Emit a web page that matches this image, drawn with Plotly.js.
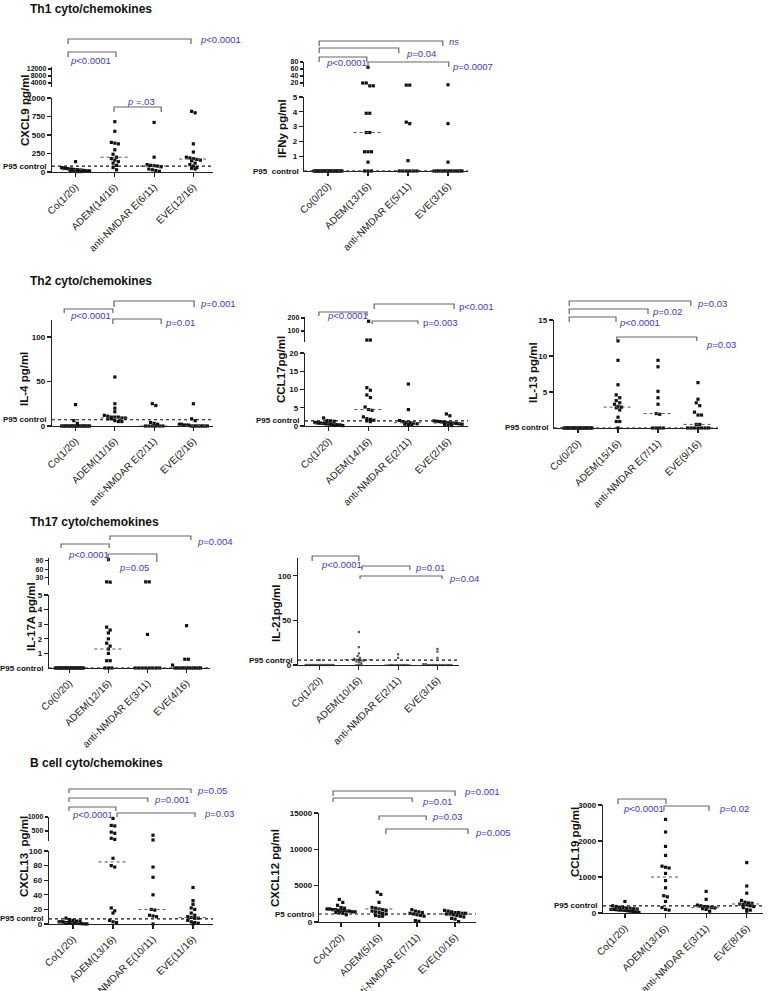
<!DOCTYPE html>
<html>
<head>
<meta charset="utf-8">
<script src="https://cdn.plot.ly/plotly-3.0.1.min.js"></script>
<style>body{margin:0;background:#fff}#chart{width:768px;height:991px}</style>
</head>
<body>
<div id="chart"></div>
<script>
// ---- values (pg/ml), groups: Co, ADEM, anti-NMDAR E, EVE ----
const cxcl9Cats = ['Co(1/20)', 'ADEM(14/16)', 'anti-NMDAR E(6/11)', 'EVE(12/16)']
const cxcl9Vals = [
    [140, 60, 55, 50, 45, 40, 40, 35, 30, 30, 25, 25, 20, 20, 15, 15, 10, 10, 5, 5],
    [14000, 680, 550, 400, 390, 380, 300, 240, 200, 180, 160, 140, 120, 90, 60, 30],
    [670, 200, 100, 90, 85, 80, 70, 40, 30, 20, 10],
    [820, 800, 380, 270, 200, 190, 180, 170, 160, 150, 120, 100, 80, 60, 50, 40]
]
const cxcl9Med = [30, 200, 80, 175]
const cxcl9P95 = 80

const ifnyCats = ['Co(0/20)', 'ADEM(13/16)', 'anti-NMDAR E(5/11)', 'EVE(3/16)']
const ifnyVals = [
    [0, 0, 0, 0, 0, 0, 0, 0, 0, 0, 0, 0, 0, 0, 0, 0, 0, 0, 0, 0],
    [65, 20, 20, 12, 12, 3.9, 3.9, 2.6, 2.6, 1.3, 1.3, 1.3, 0.6, 0, 0, 0],
    [14, 14, 3.2, 3.3, 0.7, 0, 0, 0, 0, 0, 0],
    [15, 3.2, 0.6, 0, 0, 0, 0, 0, 0, 0, 0, 0, 0, 0, 0, 0]
]
const ifnyMed = [0, 2.6, 0, 0]
const ifnyP95 = 0

const il4Cats = ['Co(1/20)', 'ADEM(11/16)', 'anti-NMDAR E(2/11)', 'EVE(2/16)']
const il4Vals = [
    [24, 6, 3, 0, 0, 0, 0, 0, 0, 0, 0, 0, 0, 0, 0, 0, 0, 0, 0, 0],
    [55, 25, 20, 16, 12, 11, 10, 10, 10, 9, 9, 8, 8, 6, 5, 5],
    [25, 23, 4, 3, 2, 0, 0, 0, 0, 0, 0],
    [25, 8, 6, 2, 2, 1, 1, 1, 0, 0, 0, 0, 0, 0, 0, 0]
]
const il4Med = [0, 9, 0, 0.5]
const il4P95 = 7

const ccl17Cats = ['Co(1/20)', 'ADEM(14/16)', 'anti-NMDAR E(2/11)', 'EVE(2/16)']
const ccl17Vals = [
    [2.2, 1.5, 1.4, 1.3, 1.0, 0.9, 0.8, 0.8, 0.7, 0.7, 0.6, 0.6, 0.5, 0.5, 0.4, 0.4, 0.3, 0.3, 0.2, 0.1],
    [175, 30, 30, 10.5, 9.8, 8.5, 7.8, 5.2, 4.5, 4.3, 2.5, 2.0, 1.8, 1.6, 1.4, 1.2],
    [11.5, 4.5, 1.5, 1.2, 1.0, 0.9, 0.8, 0.6, 0.5, 0.4, 0.3],
    [3.3, 2.8, 1.4, 1.3, 1.2, 1.1, 1.0, 0.9, 0.8, 0.8, 0.7, 0.6, 0.5, 0.4, 0.3, 0.1]
]
const ccl17Med = [0.6, 4.5, 0.9, 0.8]
const ccl17P95 = 1.4

const il13Cats = ['Co(0/20)', 'ADEM(15/16)', 'anti-NMDAR E(7/11)', 'EVE(9/16)']
const il13Vals = [
    [0, 0, 0, 0, 0, 0, 0, 0, 0, 0, 0, 0, 0, 0, 0, 0, 0, 0, 0, 0],
    [12.1, 9.4, 6.0, 4.6, 4.2, 3.8, 3.5, 3.3, 3.0, 2.9, 2.8, 2.5, 1.5, 0.9, 0.9, 0],
    [9.4, 8.5, 5.1, 4.2, 3.3, 2.0, 1.9, 0, 0, 0, 0],
    [6.3, 4.0, 3.5, 3.1, 2.2, 1.8, 1.8, 0.5, 0.5, 0, 0, 0, 0, 0, 0, 0]
]
const il13Med = [0, 2.9, 2.0, 0.5]
const il13P95 = 0

const il17aCats = ['Co(0/20)', 'ADEM(12/16)', 'anti-NMDAR E(3/11)', 'EVE(4/16)']
const il17aVals = [
    [0, 0, 0, 0, 0, 0, 0, 0, 0, 0, 0, 0, 0, 0, 0, 0, 0, 0, 0, 0],
    [95, 16, 15, 2.8, 2.6, 2.4, 2.0, 1.7, 1.5, 1.3, 1.0, 0.5, 0.5, 0, 0, 0],
    [16, 16, 2.3, 0, 0, 0, 0, 0, 0, 0, 0],
    [2.9, 0.6, 0.6, 0.2, 0, 0, 0, 0, 0, 0, 0, 0, 0, 0, 0, 0]
]
const il17aMed = [0, 1.3, 0, 0]
const il17aP95 = 0

const il21Cats = ['Co(1/20)', 'ADEM(10/16)', 'anti-NMDAR E(2/11)', 'EVE(3/16)']
const il21Vals = [
    [5.5, 0, 0, 0, 0, 0, 0, 0, 0, 0, 0, 0, 0, 0, 0, 0, 0, 0, 0, 0],
    [37, 20, 13, 10, 8, 7, 6, 6, 5, 5, 4, 3, 2, 0, 0, 0],
    [12, 8, 0, 0, 0, 0, 0, 0, 0, 0, 0],
    [18, 15, 8, 1, 1, 0, 0, 0, 0, 0, 0, 0, 0, 0, 0, 0]
]
const il21Med = [0, 6, 0, 0]
const il21P95 = 5.5

const cxcl13Cats = ['Co(1/20)', 'ADEM(13/16)', 'anti-NMDAR E(10/11)', 'EVE(11/16)']
const cxcl13Vals = [
    [8, 6, 5, 4, 4, 3, 3, 3, 2, 2, 2, 2, 1.5, 1, 1, 1, 0.5, 0.5, 0.2, 0],
    [950, 700, 680, 460, 420, 240, 200, 90, 80, 78, 22, 18, 15, 5, 3, 2],
    [350, 180, 78, 64, 40, 20, 19, 12, 11, 10, 0],
    [50, 32, 27, 22, 20, 15, 12, 10, 9, 8, 8, 5, 3, 2, 1, 0]
]
const cxcl13Med = [2, 85, 20, 9]
const cxcl13P95 = 7

const cxcl12Cats = ['Co(1/20)', 'ADEM(5/16)', 'anti-NMDAR E(7/11)', 'EVE(10/16)']
const cxcl12Vals = [
    [3100, 2700, 2300, 2000, 1900, 1800, 1800, 1700, 1700, 1600, 1600, 1600, 1500, 1500, 1400, 1400, 1300, 1300, 1200, 1000],
    [4100, 3800, 2700, 2000, 1900, 1800, 1700, 1600, 1500, 1400, 1300, 1200, 1100, 900, 800, 800],
    [1700, 1500, 1400, 1300, 1200, 1100, 1000, 900, 800, 200, 100],
    [1600, 1500, 1400, 1300, 1300, 1200, 1200, 1100, 1100, 1000, 900, 800, 700, 500, 400, 50]
]
const cxcl12Med = [1600, 1800, 1100, 1100]
const cxcl12P5 = 1100

const ccl19Cats = ['Co(1/20)', 'ADEM(13/16)', 'anti-NMDAR E(3/11)', 'EVE(8/16)']
const ccl19Vals = [
    [320, 200, 180, 160, 150, 140, 130, 120, 110, 100, 100, 90, 80, 80, 70, 60, 50, 40, 30, 20],
    [2600, 2250, 1850, 1600, 1300, 1270, 1250, 1100, 900, 700, 480, 450, 320, 150, 100, 80],
    [600, 380, 220, 200, 180, 170, 150, 140, 120, 100, 50],
    [1400, 750, 550, 350, 300, 280, 270, 250, 240, 230, 200, 180, 150, 100, 80, 50]
]
const ccl19Med = [100, 1000, 150, 250]
const ccl19P95 = 200

const sectionTitles = ['Th1 cyto/chemokines', 'Th2 cyto/chemokines', 'Th17 cyto/chemokines', 'B cell cyto/chemokines']
const sectionY = [9, 281, 522, 763]

// ---- layout of each panel (pixel geometry of the original figure) ----
const W = 768, H = 991
const F = 'Liberation Sans, Arial, sans-serif'
const BLUE = '#3a3ad0'
const px = p => p / W
const py = p => 1 - p / H
const P = s => '<i>p</i>' + s

const panels = [
    { vals: cxcl9Vals, med: cxcl9Med, cats: cxcl9Cats, ref: cxcl9P95, refText: 'P95 control', title: 'CXCL9 pg/ml', tx: 25, ty: 110,
      x0: 52, x1: 213, xr: [-0.6, 3.5],
      low: { b: 172, t: 98, r: [0, 1000], ticks: [0, 250, 500, 750, 1000] },
      up: { b: 87, t: 67, r: [1714, 13143], ticks: [4000, 8000, 12000] },
      br: [[-0.19, 2.94, 39, 5, P('&lt;0.0001'), 3.12, 39, 'left'],
           [-0.19, 1.03, 52, 5, P('&lt;0.0001'), 0.39, 60, 'center'],
           [0.98, 2.18, 107, 5, P(' =.03'), 1.67, 101, 'center']] },
    { vals: ifnyVals, med: ifnyMed, cats: ifnyCats, ref: ifnyP95, refText: 'P95  control', title: 'IFNy pg/ml', tx: 282, ty: 129,
      x0: 304, x1: 468, xr: [-0.6, 3.5],
      low: { b: 171, t: 97, r: [0, 5], ticks: [1, 2, 3, 4, 5] },
      up: { b: 87, t: 62, r: [8.6, 80], ticks: [20, 40, 60, 80] },
      br: [[-0.22, 2.87, 41, 5, '<i>ns</i>', 2.97, 42, 'left'],
           [-0.22, 1.77, 48, 5, P('=0.04'), 1.9, 54, 'left'],
           [-0.22, 0.97, 57, 5, P('&lt;0.0001'), 0.47, 62, 'center'],
           [1.0, 3.02, 62, 5, P('=0.0007'), 3.05, 66, 'left']] },
    { vals: il4Vals, med: il4Med, cats: il4Cats, ref: il4P95, refText: 'P95 control', title: 'IL-4 pg/ml', tx: 24, ty: 379,
      x0: 52, x1: 213, xr: [-0.6, 3.5],
      low: { b: 426, t: 320, r: [0, 119], ticks: [0, 50, 100] },
      br: [[-0.29, 0.95, 309, 4, P('&lt;0.0001'), 0.37, 315, 'center'],
           [0.98, 3.02, 301, 6, P('=0.001'), 3.12, 304, 'left'],
           [0.95, 2.18, 319, 5, P('=0.01'), 2.23, 322, 'left']] },
    { vals: ccl17Vals, med: ccl17Med, cats: ccl17Cats, ref: ccl17P95, refText: 'P95 control', title: 'CCL17pg/ml', tx: 281, ty: 370,
      x0: 305, x1: 468, xr: [-0.6, 3.5],
      low: { b: 426, t: 353, r: [0, 20], ticks: [0, 5, 10, 15, 20] },
      up: { b: 342, t: 317, r: [15, 208], ticks: [100, 200] },
      br: [[-0.25, 0.96, 312, 4, P('&lt;0.0001'), 0.46, 315, 'center'],
           [1.14, 3.15, 304, 5, 'p&lt;0.001', 3.22, 306, 'left'],
           [1.09, 2.24, 321, 3, 'p=0.003', 2.32, 322, 'left']] },
    { vals: il13Vals, med: il13Med, cats: il13Cats, ref: il13P95, refText: 'P95 control', title: 'IL-13 pg/ml', tx: 533, ty: 373,
      x0: 554, x1: 718, xr: [-0.6, 3.5],
      low: { b: 428, t: 320, r: [0, 15], ticks: [5, 10, 15] },
      br: [[-0.22, 2.82, 301, 5, P('=0.03'), 2.92, 304, 'left'],
           [-0.22, 1.75, 309, 5, P('=0.02'), 1.8, 311, 'left'],
           [-0.22, 0.95, 317, 5, P('&lt;0.0001'), 0.97, 322, 'left'],
           [0.97, 2.97, 337, 4, P('=0.03'), 3.15, 344, 'left']] },
    { vals: il17aVals, med: il17aMed, cats: il17aCats, ref: il17aP95, refText: 'P95 control', title: 'IL-17A pg/ml', tx: 31, ty: 617,
      x0: 49, x1: 210, xr: [-0.52, 3.6],
      low: { b: 668, t: 595, r: [0, 5], ticks: [1, 2, 3, 4, 5] },
      up: { b: 585, t: 558, r: [5, 100], ticks: [30, 60, 90] },
      br: [[1.04, 3.11, 536, 4, P('=0.004'), 3.22, 541, 'left'],
           [-0.21, 1.02, 544, 4, P('&lt;0.0001'), 0.49, 554, 'center'],
           [0.99, 2.24, 554, 8, P('=0.05'), 1.65, 567, 'center']] },
    { vals: il21Vals, med: il21Med, cats: il21Cats, ref: il21P95, refText: 'P95 control', title: 'IL-21pg/ml', tx: 276, ty: 613,
      x0: 298, x1: 459, xr: [-0.55, 3.55], small: true,
      low: { b: 665, t: 558, r: [0, 120], ticks: [0, 50, 100] },
      br: [[-0.19, 1.0, 556, 5, P('&lt;0.0001'), 0.56, 564, 'center'],
           [1.08, 2.3, 566, 4, P('=0.01'), 2.38, 567, 'left'],
           [1.03, 3.12, 576, 3, P('=0.04'), 3.24, 578, 'left']] },
    { vals: cxcl13Vals, med: cxcl13Med, cats: cxcl13Cats, ref: cxcl13P95, refText: 'P95 control', title: 'CXCL13  pg/ml', tx: 24, ty: 857,
      x0: 49, x1: 213, xr: [-0.6, 3.5],
      low: { b: 924, t: 851, r: [0, 100], ticks: [0, 20, 40, 60, 80, 100] },
      up: { b: 841, t: 817, r: [143, 1000], ticks: [500, 1000] },
      br: [[-0.1, 2.95, 789, 4, P('=0.05'), 3.05, 790, 'left'],
           [-0.1, 1.87, 798, 4, P('=0.001'), 1.97, 799, 'left'],
           [-0.1, 1.07, 807, 4, P('&lt;0.0001'), 0.49, 814, 'center'],
           [1.1, 3.05, 813, 4, P('=0.03'), 3.23, 813, 'left']] },
    { vals: cxcl12Vals, med: cxcl12Med, cats: cxcl12Cats, ref: cxcl12P5, refText: 'P5 control', title: 'CXCL12 pg/ml', tx: 275, ty: 868,
      x0: 319, x1: 476, xr: [-0.58, 3.55],
      low: { b: 922, t: 813, r: [0, 15000], ticks: [0, 5000, 10000, 15000] },
      br: [[-0.21, 3.0, 791, 5, P('=0.001'), 3.18, 791, 'left'],
           [-0.21, 1.87, 798, 4, P('=0.01'), 2.08, 801, 'left'],
           [1.0, 2.24, 816, 4, P('=0.03'), 2.34, 816, 'left'],
           [1.18, 3.34, 829, 5, P('=0.005'), 3.47, 832, 'left']] },
    { vals: ccl19Vals, med: ccl19Med, cats: ccl19Cats, ref: ccl19P95, refText: 'P95 control', title: 'CCL19 pg/ml', tx: 575, ty: 842,
      x0: 603, x1: 763, xr: [-0.54, 3.4],
      low: { b: 913, t: 805, r: [0, 3000], ticks: [0, 1000, 2000, 3000] },
      br: [[-0.17, 1.01, 799, 5, P('&lt;0.0001'), 0.46, 808, 'center'],
           [0.96, 2.07, 806, 5, P('=0.02'), 2.27, 808, 'left']] }
]

// pixel row of a value, used only to spread tied points sideways
function rowPx(p, v) {
    if (p.up && v > p.low.r[1]) return p.up.b - (v - p.up.r[0]) / (p.up.r[1] - p.up.r[0]) * (p.up.b - p.up.t)
    return p.low.b - (v - p.low.r[0]) / (p.low.r[1] - p.low.r[0]) * (p.low.b - p.low.t)
}

function spread(ys, d, half) {
    const idx = ys.map((_, i) => i).sort((a, b) => ys[a] - ys[b])
    const off = new Array(ys.length).fill(0)
    let i = 0
    while (i < idx.length) {
        let j = i
        while (j + 1 < idx.length && ys[idx[j + 1]] - ys[idx[i]] < d) j++
        const m = j - i + 1
        const s = m > 1 ? Math.min(d, 2 * half / (m - 1)) : 0
        for (let q = i; q <= j; q++) off[idx[q]] = (q - i - (m - 1) / 2) * s
        i = j + 1
    }
    return off
}

const traces = []
const shapes = []
const annotations = []
const layout = {
    width: W, height: H, margin: { l: 0, r: 0, t: 0, b: 0 },
    paper_bgcolor: '#fff', plot_bgcolor: 'rgba(0,0,0,0)',
    showlegend: false, hovermode: false,
    font: { family: F, color: '#111' }
}

const yBase = {
    showgrid: false, zeroline: false, showline: true, linecolor: '#222', linewidth: 1.3,
    ticks: 'outside', ticklen: 4, tickwidth: 1.2, tickcolor: '#222', fixedrange: true,
    tickfont: { size: 8, family: F, weight: 'bold', color: '#111' }
}

let yCount = 0
panels.forEach((p, k) => {
    const xn = k === 0 ? '' : String(k + 1)
    const xId = 'x' + xn
    yCount++
    const yLowN = yCount === 1 ? '' : String(yCount)
    const yLow = 'y' + yLowN
    let yUp = null
    layout['xaxis' + xn] = {
        domain: [px(p.x0), px(p.x1)], range: p.xr, anchor: yLow,
        showgrid: false, zeroline: false, showline: true, linecolor: '#222', linewidth: 1.3,
        ticks: 'outside', ticklen: 4, tickwidth: 1.2, tickcolor: '#222', fixedrange: true,
        tickvals: [0, 1, 2, 3], ticktext: p.cats, tickangle: -45,
        tickfont: { size: 10, family: F, color: '#222' }
    }
    layout['yaxis' + yLowN] = Object.assign({}, yBase, {
        domain: [py(p.low.b), py(p.low.t)], range: p.low.r, anchor: xId,
        tickvals: p.low.ticks, ticktext: p.low.ticks.map(String)
    })
    if (p.up) {
        yCount++
        const yUpN = String(yCount)
        yUp = 'y' + yUpN
        layout['yaxis' + yUpN] = Object.assign({}, yBase, {
            domain: [py(p.up.b), py(p.up.t)], range: p.up.r, anchor: xId,
            tickvals: p.up.ticks, ticktext: p.up.ticks.map(String), ticklen: 3,
            tickfont: { size: 7, family: F, weight: 'bold', color: '#111' }
        })
    }
    const pxPerUnit = (p.x1 - p.x0) / (p.xr[1] - p.xr[0])
    const dot = p.small ? 2.2 : 3.2
    const d = p.small ? 2.4 : 3.5
    p.vals.forEach((vals, g) => {
        const off = spread(vals.map(v => rowPx(p, v)), d, 14)
        const lo = { x: [], y: [] }, hi = { x: [], y: [] }
        vals.forEach((v, i) => {
            const t = (p.up && v > p.low.r[1]) ? hi : lo
            t.x.push(g + off[i] / pxPerUnit)
            t.y.push(v)
        })
        const marker = { symbol: 'square', size: dot, color: p.small ? '#555' : '#111', line: { width: 0 } }
        traces.push({ type: 'scatter', mode: 'markers', x: lo.x, y: lo.y, xaxis: xId, yaxis: yLow, marker, cliponaxis: false })
        if (hi.x.length) traces.push({ type: 'scatter', mode: 'markers', x: hi.x, y: hi.y, xaxis: xId, yaxis: yUp, marker, cliponaxis: false })
        // median line
        shapes.push({ type: 'line', xref: xId, yref: yLow, x0: g - 0.36, x1: g + 0.36, y0: p.med[g], y1: p.med[g],
            line: { color: '#555', width: 1, dash: 'dot' } })
    })
    // reference (P95 / P5 control) line
    shapes.push({ type: 'line', xref: xId, yref: yLow, x0: p.xr[0], x1: p.xr[1], y0: p.ref, y1: p.ref,
        line: { color: '#111', width: 1.2, dash: 'dot' } })
    annotations.push({ xref: 'paper', yref: yLow, x: px(p.x0 - 3), y: p.ref, xanchor: 'right', yanchor: 'middle',
        text: p.refText, showarrow: false, font: { size: 8, family: F, weight: 'bold', color: '#111' } })
    // y title
    annotations.push({ xref: 'paper', yref: 'paper', x: px(p.tx), y: py(p.ty), xanchor: 'center', yanchor: 'middle',
        text: p.title, textangle: -90, showarrow: false, font: { size: 11.5, family: F, weight: 'bold', color: '#111' } })
    // significance brackets
    p.br.forEach(b => {
        const [a, c, y, tl, txt, lx, ly, anc] = b
        shapes.push({ type: 'path', xref: xId, yref: 'paper',
            path: `M ${a},${py(y + tl)} L ${a},${py(y)} L ${c},${py(y)} L ${c},${py(y + tl)}`,
            line: { color: '#666', width: 1.2 } })
        annotations.push({ xref: xId, yref: 'paper', x: lx, y: py(ly), xanchor: anc, yanchor: 'middle',
            text: txt, showarrow: false, font: { size: 9.5, family: F, color: BLUE } })
    })
})

sectionTitles.forEach((t, i) => {
    annotations.push({ xref: 'paper', yref: 'paper', x: px(28), y: py(sectionY[i]), xanchor: 'left', yanchor: 'middle',
        text: t, showarrow: false, font: { size: 12, family: F, weight: 'bold', color: '#111' } })
})

layout.shapes = shapes
layout.annotations = annotations

Plotly.newPlot(document.getElementById('chart'), traces, layout, { staticPlot: true, displayModeBar: false })
</script>
</body>
</html>
